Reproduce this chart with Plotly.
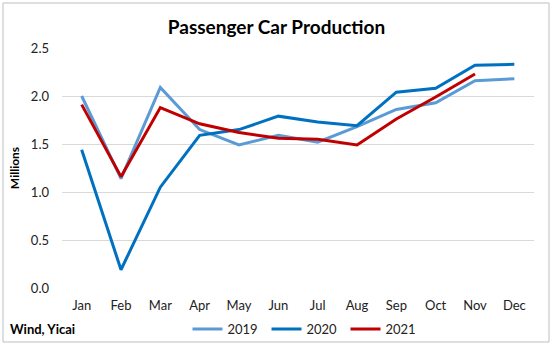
import plotly.graph_objects as go

months = ["Jan", "Feb", "Mar", "Apr", "May", "Jun", "Jul", "Aug", "Sep", "Oct", "Nov", "Dec"]
y2019 = [2.00, 1.14, 2.09, 1.65, 1.49, 1.59, 1.52, 1.68, 1.86, 1.93, 2.16, 2.18]
y2020 = [1.44, 0.19, 1.05, 1.59, 1.65, 1.79, 1.73, 1.69, 2.04, 2.08, 2.32, 2.33]
y2021 = [1.91, 1.16, 1.88, 1.71, 1.62, 1.56, 1.55, 1.49, 1.76, 1.99, 2.23]
y_ticks = [0.0, 0.5, 1.0, 1.5, 2.0, 2.5]

W, H = 553, 346
L, R, T, B = 62, 19, 48, 58
FONT = "Lato"

fig = go.Figure()
for name, ys, col in [("2019", y2019, "#5B9BD5"), ("2020", y2020, "#0070C0"), ("2021", y2021, "#C00000")]:
    fig.add_trace(go.Scatter(x=months[:len(ys)], y=ys, name=name, mode="lines",
                             line=dict(color=col, width=3)))

pw, ph = W - L - R, H - T - B
legend_y = -(329 - (T + ph)) / ph
fig.update_layout(
    width=W, height=H,
    margin=dict(l=L, r=R, t=T, b=B, autoexpand=False),
    paper_bgcolor="white", plot_bgcolor="white",
    font=dict(family=FONT, size=13, color="#222"),
    title=dict(text="<b>Passenger Car Production</b>", x=0.5, xanchor="center",
               y=1 - 27 / H, yanchor="middle", font=dict(size=19, color="black", family=FONT)),
    xaxis=dict(type="category", range=[-0.5, 11.5], showgrid=False, showline=False,
               ticks="", tickfont=dict(size=13), ticklabelstandoff=8, automargin=False),
    yaxis=dict(range=[0, 2.5], tickvals=y_ticks, ticktext=[f"{v:.1f}" for v in y_ticks],
               showgrid=True, gridcolor="#D9D9D9", gridwidth=1, zeroline=False,
               showline=False, ticks="", tickfont=dict(size=13), ticklabelstandoff=12,
               automargin=False,
               title=dict(text="<b>Millions</b>", font=dict(size=12, color="black"), standoff=8)),
    showlegend=True,
    legend=dict(orientation="h", x=(306 - L) / pw, xanchor="center", y=legend_y,
                yanchor="middle", font=dict(size=13), itemwidth=30, tracegroupgap=0,
                entrywidth=34, bgcolor="rgba(0,0,0,0)"),
    annotations=[dict(text="<b>Wind, Yicai</b>", xref="paper", yref="paper",
                      x=-(L - 8) / pw, xanchor="left", y=legend_y, yanchor="middle",
                      showarrow=False, font=dict(size=13, color="black", family=FONT))],
    shapes=[dict(type="rect", xref="paper", yref="paper",
                 x0=-(L - 3) / pw, x1=1 + (R - 4) / pw,
                 y0=-(B - 4) / ph, y1=1 + (T - 3) / ph,
                 line=dict(color="#BFBFBF", width=1), fillcolor="rgba(0,0,0,0)", layer="below")],
)
fig.write_html("out.html")
